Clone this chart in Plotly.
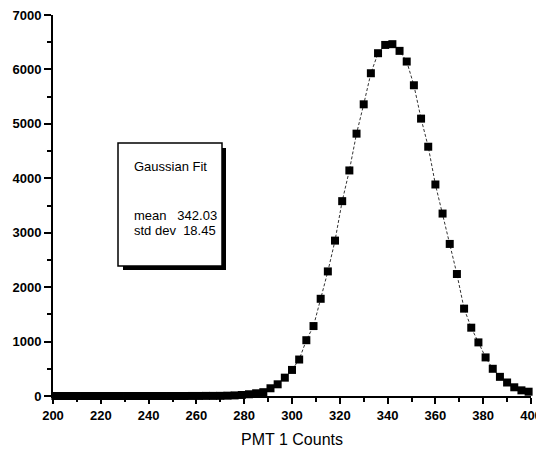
import plotly.graph_objects as go

pmt_counts = [201, 204, 207, 210, 213, 216, 219, 222, 225, 228, 231, 234, 237, 240,
              243, 246, 249, 252, 255, 258, 261, 264, 267, 270, 273, 276, 279, 282,
              285, 288, 291, 294, 297, 300, 303, 306, 309, 312, 315, 318, 321, 324,
              327, 330, 333, 336, 339, 342, 345, 348, 351, 354, 357, 360, 363, 366,
              369, 372, 375, 378, 381, 384, 387, 390, 393, 396, 399]
frequency = [0, 0, 0, 0, 0, 0, 0, 0, 0, 0, 0, 0, 0, 0,
             0, 0, 0, 0, 0, 1, 1, 2, 2, 3, 6, 11, 19, 32,
             50, 70, 142, 215, 337, 479, 670, 1025, 1285, 1786, 2289, 2855, 3580, 4144,
             4820, 5359, 5930, 6298, 6450, 6464, 6341, 6145, 5709, 5096, 4580, 3886, 3352, 2794,
             2241, 1605, 1255, 985, 709, 500, 352, 248, 160, 104, 79]

x_ticks = [200, 220, 240, 260, 280, 300, 320, 340, 360, 380, 400]
y_ticks = [0, 1000, 2000, 3000, 4000, 5000, 6000, 7000]

fit_title = "Gaussian Fit"
fit_mean = "342.03"
fit_std = "18.45"

W, H = 536, 454
L, R, T, B = 53, 5, 15, 58
pw, ph = W - L - R, H - T - B

def px_x(p):
    return (p - L) / pw

def px_y(p):
    return (H - B - p) / ph

fig = go.Figure()
fig.add_trace(go.Scatter(
    x=pmt_counts, y=frequency, mode="lines+markers",
    line=dict(color="#333333", width=1, dash="3px,2px"),
    marker=dict(symbol="square", size=8, color="black"),
    showlegend=False, cliponaxis=False,
))

font_family = "Liberation Sans, Arial, sans-serif"

fig.update_layout(
    width=W, height=H,
    margin=dict(l=L, r=R, t=T, b=B, autoexpand=False),
    paper_bgcolor="white", plot_bgcolor="white",
    font=dict(family=font_family, color="black"),
    xaxis=dict(
        range=[200, 400], tickvals=x_ticks, ticktext=[str(v) for v in x_ticks],
        ticks="outside", ticklen=6, tickwidth=2, tickcolor="black",
        ticklabeloverflow="allow", automargin=False,
        showline=True, linewidth=2, linecolor="black", showgrid=False, zeroline=False,
        tickfont=dict(size=13, family=font_family, weight="bold"),
        minor=dict(dtick=10, ticks="outside", ticklen=4, tickwidth=2, tickcolor="black", showgrid=False),
        title=dict(text="PMT 1 Counts", font=dict(size=16, family=font_family), standoff=12),
    ),
    yaxis=dict(
        range=[0, 7000], tickvals=y_ticks, ticktext=[str(v) for v in y_ticks],
        ticks="outside", ticklen=7, tickwidth=2, tickcolor="black",
        automargin=False,
        showline=True, linewidth=2, linecolor="black", showgrid=False, zeroline=False,
        tickfont=dict(size=13, family=font_family, weight="bold"),
        minor=dict(dtick=500, ticks="outside", ticklen=4, tickwidth=2, tickcolor="black", showgrid=False),
    ),
)

bx0, bx1, by0, by1 = 118, 222, 143, 266
fig.add_shape(type="rect", xref="paper", yref="paper",
              x0=px_x(bx0 + 5), x1=px_x(bx1 + 4), y0=px_y(by1 + 4), y1=px_y(by0 + 5),
              fillcolor="black", line=dict(width=0), layer="above")
fig.add_shape(type="rect", xref="paper", yref="paper",
              x0=px_x(bx0), x1=px_x(bx1), y0=px_y(by1), y1=px_y(by0),
              fillcolor="white", line=dict(color="black", width=1.5), layer="above")

fig.add_annotation(xref="paper", yref="paper", x=px_x(132), y=px_y(166),
                   text=fit_title, showarrow=False, xanchor="left", yanchor="middle",
                   font=dict(size=13, family=font_family))
fig.add_annotation(xref="paper", yref="paper", x=px_x(132), y=px_y(216),
                   text="mean&nbsp;&nbsp;&nbsp;" + fit_mean, showarrow=False, xanchor="left", yanchor="middle",
                   font=dict(size=13, family=font_family))
fig.add_annotation(xref="paper", yref="paper", x=px_x(132), y=px_y(230),
                   text="std dev&nbsp;&nbsp;" + fit_std, showarrow=False, xanchor="left", yanchor="middle",
                   font=dict(size=13, family=font_family))

fig.write_html("out.html")
